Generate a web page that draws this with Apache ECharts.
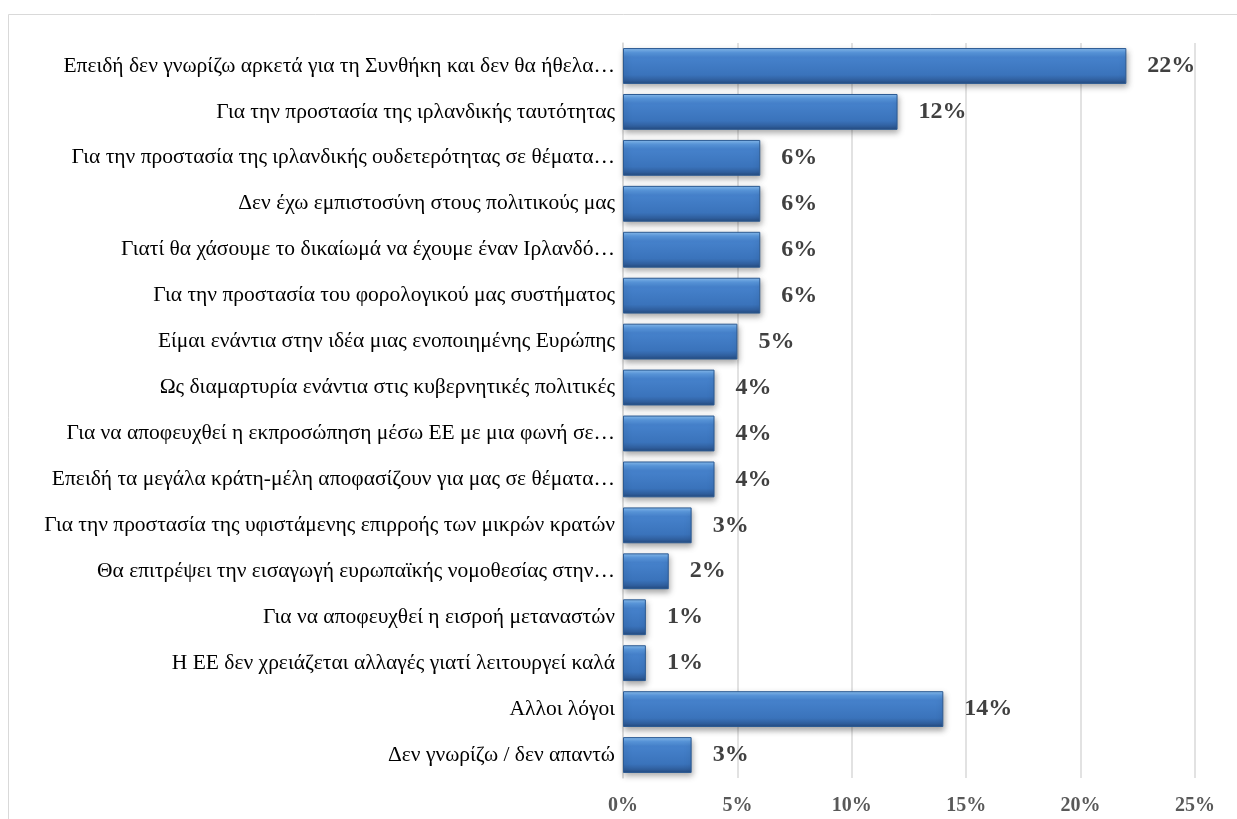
<!DOCTYPE html>
<html><head><meta charset="utf-8">
<script src="https://cdn.jsdelivr.net/npm/echarts@6/dist/echarts.min.js"></script>
<style>html,body{margin:0;padding:0;background:#fff;}#c{width:1237px;height:819px;}</style>
</head><body><div id="c"></div>
<script>
const categories = [
  "Επειδή δεν γνωρίζω αρκετά για τη Συνθήκη και δεν θα ήθελα…",
  "Για την προστασία της ιρλανδικής ταυτότητας",
  "Για την προστασία της ιρλανδικής ουδετερότητας σε θέματα…",
  "Δεν έχω εμπιστοσύνη στους πολιτικούς μας",
  "Γιατί θα χάσουμε το δικαίωμά να έχουμε έναν Ιρλανδό…",
  "Για την προστασία του φορολογικού μας συστήματος",
  "Είμαι ενάντια στην ιδέα μιας ενοποιημένης Ευρώπης",
  "Ως διαμαρτυρία ενάντια στις κυβερνητικές πολιτικές",
  "Για να αποφευχθεί η εκπροσώπηση μέσω ΕΕ με μια φωνή σε…",
  "Επειδή τα μεγάλα κράτη-μέλη αποφασίζουν για μας σε θέματα…",
  "Για την προστασία της υφιστάμενης επιρροής των μικρών κρατών",
  "Θα επιτρέψει την εισαγωγή ευρωπαϊκής νομοθεσίας στην…",
  "Για να αποφευχθεί η εισροή μεταναστών",
  "Η ΕΕ δεν χρειάζεται αλλαγές γιατί λειτουργεί καλά",
  "Αλλοι λόγοι",
  "Δεν γνωρίζω / δεν απαντώ"
];
const values = [22, 12, 6, 6, 6, 6, 5, 4, 4, 4, 3, 2, 1, 1, 14, 3];
const axisMin = 0, axisMax = 25, axisStep = 5;

const chart = echarts.init(document.getElementById('c'));
chart.setOption({
  animation: false,
  backgroundColor: '#fff',
  graphic: [{type:'rect', shape:{x:8.5,y:14.5,width:1240,height:820}, style:{fill:'none', stroke:'#d9d9d9', lineWidth:1}}],
  grid: {left: 623, right: 42, top: 43, bottom: 41, containLabel: false},
  xAxis: {
    type: 'value', min: axisMin, max: axisMax, interval: axisStep,
    axisLabel: {formatter: '{value}%', fontFamily: 'Liberation Serif', fontWeight: 'bold', fontSize: 20, color: '#595959', margin: 18},
    axisLine: {show: false}, axisTick: {show: false},
    splitLine: {lineStyle: {color: '#d9d9d9', width: 1.5}}
  },
  yAxis: {
    type: 'category', data: categories, inverse: true,
    axisLabel: {fontFamily: 'Liberation Serif', fontSize: 21.5, color: '#000', margin: 8},
    axisLine: {show: true, lineStyle: {color: '#d9d9d9', width: 1.5}}, axisTick: {show: false}
  },
  series: [{
    type: 'bar', data: values, barCategoryGap: '22%',
    itemStyle: {
      color: new echarts.graphic.LinearGradient(0,0,0,1,[
        {offset:0, color:'#8cc0f2'},{offset:0.12, color:'#5b9ae0'},{offset:0.25, color:'#4682cc'},
        {offset:0.75, color:'#3a73bb'},{offset:0.9, color:'#305f9e'},{offset:1, color:'#234a7e'}]),
      borderColor: '#2c5a92', borderWidth: 1,
      shadowColor: 'rgba(0,0,0,0.35)', shadowBlur: 6, shadowOffsetX: 1, shadowOffsetY: 3
    },
    label: {show: true, position: 'right', distance: 21, formatter: '{c}%', fontFamily: 'Liberation Serif', fontWeight: 'bold', fontSize: 24, color: '#404040'}
  }]
});
</script></body></html>
